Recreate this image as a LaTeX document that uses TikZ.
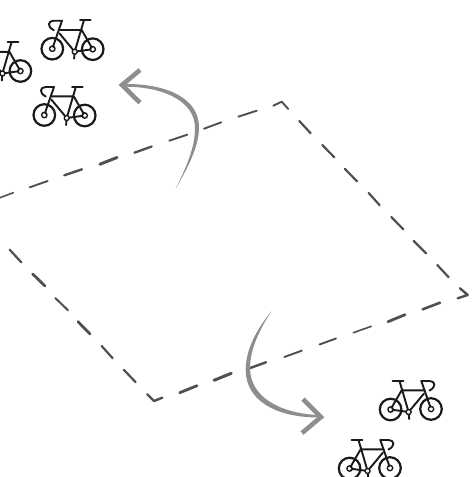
\documentclass[tikz,border=0pt]{standalone}
\definecolor{dashcol}{HTML}{505050}
\definecolor{arrowcol}{HTML}{8E8E8E}
\definecolor{bikecol}{HTML}{1A1A1A}
\tikzset{
  seg/.style={draw=dashcol,line cap=round,line join=round,line width=#1},
  seg/.default=2pt,
  bikeline/.style={draw=bikecol,line width=1.9pt,line cap=round,line join=round},
  swoosh/.style={fill=arrowcol,draw=none},
  headline/.style={draw=arrowcol,line width=4.6pt,line cap=butt,line join=miter},
  bike/.pic={
    \draw[bikeline,line width=2.2pt] (0,0) circle[radius=10.8];
    \draw[bikeline,line width=2.2pt] (40.4,0.5) circle[radius=10.8];
    \draw[bikeline,line width=1.4pt] (0,0) circle[radius=2.7];
    \draw[bikeline,line width=1.4pt] (40.4,0.5) circle[radius=2.7];
    \draw[bikeline] (0,0) -- (9.7,-28) -- (1.5,-28)
       .. controls (-4.5,-28) and (-5.5,-22) .. (1.5,-18.5);
    \draw[bikeline] (27.7,-28.4) -- (38.4,-28.4);
    \draw[bikeline] (31.5,-28) -- (22.4,3) -- (40.4,0.5) -- (29.4,-18.7) -- (6.5,-18.7);
    \draw[bikeline] (7,-15.5) -- (22.4,3) -- (21.8,10);
    \draw[bikeline,line width=1.4pt,fill=white] (22.4,3) circle[radius=2.5];
    \fill[white] (0,0) circle[radius=1.6];
    \fill[white] (40.4,0.5) circle[radius=1.6];
  }
}
\begin{document}
\begin{tikzpicture}[x=1pt,y=-1pt]
\clip (0,0) rectangle (476,477);
\fill[white] (0,0) rectangle (476,477);
% upper-left edge
\draw[seg=1.9pt] (273.3,105.7) -- (281.7,101.7) -- (288.3,109);
\draw[seg=1.9pt] (256.7,110.7) -- (238.3,116.7);
\draw[seg=1.9pt] (221.3,122.3) -- (204,128.7);
\draw[seg=1.9pt] (187.3,134.7) -- (169.3,140.7);
\draw[seg=2.3pt] (151.7,146.5) -- (134.5,152.7);
\draw[seg=3pt] (117,157.5) -- (100,164.2);
\draw[seg=2.4pt] (82,169.3) -- (64.3,175.3);
\draw[seg=1.9pt] (47.7,181) -- (29.7,187.3);
\draw[seg=1.6pt] (13.3,192.7) -- (0,197.7);
% upper-right edge
\draw[seg=2.2pt] (299.3,121) -- (310.7,133.3);
\draw[seg=2.2pt] (322.3,145) -- (334.3,157.3);
\draw[seg=2.2pt] (345,169) -- (357,181.3);
\draw[seg=2.2pt] (368.7,193) -- (379.7,205.3);
\draw[seg=2.2pt] (391.3,217) -- (403.3,229.3);
\draw[seg=2.2pt] (413.7,241) -- (426,253.3);
\draw[seg=2.2pt] (437.3,265) -- (448.7,277.3);
\draw[seg=2.4pt] (460,288.3) -- (467.7,295) -- (457.7,298.3);
% lower-right edge
\draw[seg=2.6pt] (440,302.7) -- (422.7,309.3);
\draw[seg=2.8pt] (405,314.7) -- (388,321.7);
\draw[seg=1.6pt] (371.3,326.3) -- (353.3,332.7);
\draw[seg=1.9pt] (336,338.5) -- (319.5,344.5);
\draw[seg=1.9pt] (301.7,350.7) -- (284.3,357);
\draw[seg=2.4pt] (266,362.3) -- (249.3,368.3);
\draw[seg=3pt] (231.3,373.3) -- (214,380.3);
\draw[seg=2.8pt] (197,385.7) -- (179.7,392.7);
\draw[seg=2.4pt] (162.3,397.7) -- (154,401) -- (147.3,394.3);
% lower-left edge
\draw[seg=2.2pt] (135.7,382.3) -- (124,370);
\draw[seg=2.2pt] (112.7,358.3) -- (101.7,346);
\draw[seg=2.8pt] (90,334) -- (78,321.7);
\draw[seg=2pt] (68,310.3) -- (55.3,298);
\draw[seg=2.8pt] (45,286) -- (32.7,274);
\draw[seg=2.2pt] (21.3,262.3) -- (9.7,249.7);
% upper arrow
\fill[swoosh] (175.5,189) .. controls (188,167) and (199,147) .. (199,127)
  .. controls (199,100) and (170,84) .. (126,84)
  -- (126,86.7) .. controls (165,87) and (195,102) .. (195,128)
  .. controls (195,147) and (187,166) .. (175.5,189) -- cycle;
\draw[headline] (140,70) -- (122,85) -- (140,102.7);
% lower arrow
\fill[swoosh] (271.7,311) .. controls (256,330) and (245.7,350) .. (245.7,370)
  .. controls (245.7,400) and (275,417) .. (317,417.5)
  -- (317,415) .. controls (280,413) and (250,397) .. (250,368)
  .. controls (250,350) and (259,330) .. (271.7,311) -- cycle;
\draw[headline] (303,399) -- (321,417) -- (302,433);
% bicycles
\pic at (52.3,48.7) {bike};
\pic at (44.3,115) {bike};
\pic at (-20,70.5) {bike};
\pic[xscale=-1] at (431,409) {bike};
\pic[xscale=-1] at (390,468) {bike};
\end{tikzpicture}
\end{document}
